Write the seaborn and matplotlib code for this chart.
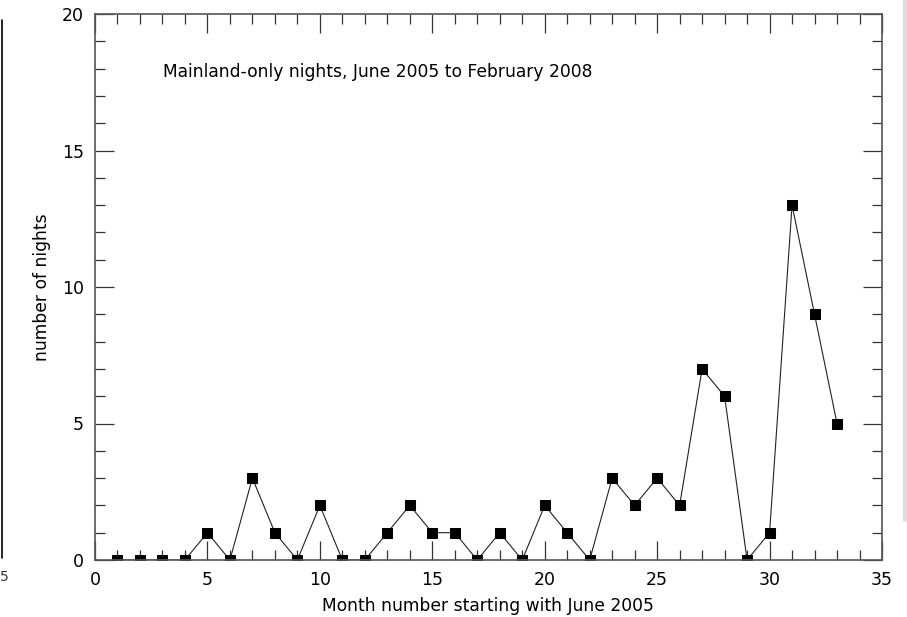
import matplotlib
matplotlib.use("Agg")
import matplotlib.pyplot as plt
from matplotlib.ticker import MultipleLocator
import seaborn as sns
import pandas as pd

months = list(range(1, 34))
nights = [0, 0, 0, 0, 1, 0, 3, 1, 0, 2, 0, 0, 1, 2, 1, 1, 0, 1, 0, 2,
          1, 0, 3, 2, 3, 2, 7, 6, 0, 1, 13, 9, 5]
title_text = "Mainland-only nights, June 2005 to February 2008"
xlabel = "Month number starting with June 2005"
ylabel = "number of nights"

sns.set_theme(style="ticks")
plt.rcParams['font.family'] = ['DejaVu Sans']
plt.rcParams['text.color'] = 'black'
plt.rcParams['axes.labelcolor'] = 'black'

df = pd.DataFrame({"month": months, "nights": nights})

fig = plt.figure(figsize=(9.07, 6.17), dpi=100)
ax = fig.add_axes([95/907, 57/617, 787/907, 546/617])

sns.lineplot(data=df, x="month", y="nights", ax=ax, color="#222222",
             linewidth=0.8, marker="s", markersize=7.5,
             markerfacecolor="black", markeredgecolor="black")

ax.set_xlim(0, 35)
ax.set_ylim(0, 20)
ax.xaxis.set_major_locator(MultipleLocator(5))
ax.xaxis.set_minor_locator(MultipleLocator(1))
ax.yaxis.set_major_locator(MultipleLocator(5))
ax.yaxis.set_minor_locator(MultipleLocator(1))
ax.tick_params(which="both", direction="in", top=True, right=True,
               color="#333333", width=0.9, labelsize=12.5, labelcolor="black")
ax.tick_params(which="major", length=13.5, pad=8)
ax.tick_params(which="minor", length=7)
ax.tick_params(axis="x", which="major", pad=8)
for s in ax.spines.values():
    s.set_color("#555555")
    s.set_linewidth(1.2)

ax.set_xlabel(xlabel, fontsize=12.3, color="black")
ax.set_ylabel(ylabel, fontsize=12.3, color="black")
ax.xaxis.set_label_coords((488 - 95) / 787, (560 - 606) / 546)
ax.yaxis.set_label_coords((42 - 95) / 787, 0.5)
ax.xaxis.label.set_va("center")
ax.yaxis.label.set_va("center")

fig.text(163/907, 1 - 72/617, title_text, fontsize=12.3, ha="left", va="center",
         color="black")

# scan artifacts at the edges
fig.add_artist(plt.Line2D([1.5/907, 1.5/907], [1 - 20/617, 1 - 558/617],
                          color="black", linewidth=1.2, transform=fig.transFigure))
fig.text(0/907, 1 - 577/617, "5", fontsize=10, ha="left", va="center", color="#333333")
fig.add_artist(plt.Line2D([905/907, 905/907], [1 - 0/617, 1 - 520/617],
                          color="#dddddd", linewidth=3, transform=fig.transFigure))

fig.savefig("out.png", dpi=100)
